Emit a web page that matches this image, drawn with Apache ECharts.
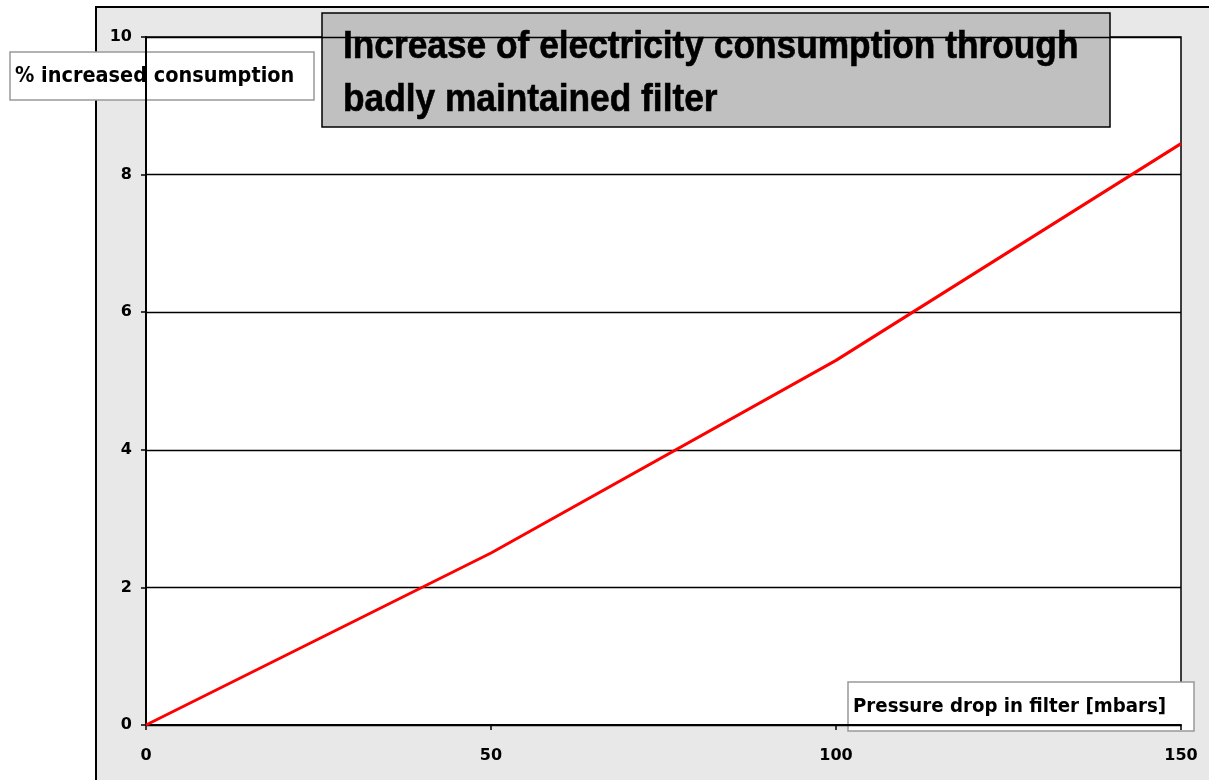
<!DOCTYPE html>
<html><head><meta charset="utf-8">
<script src="https://cdn.jsdelivr.net/npm/echarts@6/dist/echarts.min.js"></script>
<style>html,body{margin:0;padding:0;background:#fff}#c{width:1209px;height:780px}</style>
</head><body><div id="c"></div>
<script>
const titleLines = ["Increase of electricity consumption through", "badly maintained filter"];
const yAxisTitle = "% increased consumption";
const xAxisTitle = "Pressure drop in filter [mbars]";
const pressureDrop = [0, 50, 100, 150];
const increasePct = [0, 2.5, 5.3, 8.45];
const xTicks = [0, 50, 100, 150];
const yTicks = [0, 2, 4, 6, 8, 10];

const G = {left: 146, top: 37, right: 28, bottom: 55};
const W = 1209, H = 780;
const chart = echarts.init(document.getElementById('c'));
const tickFont = {fontFamily: 'DejaVu Sans', fontWeight: 'bold', fontSize: 16, color: '#000'};
const titleFont = 'bold 39px "Liberation Sans", Arial, sans-serif';
chart.setOption({
  backgroundColor: '#fff',
  animation: false,
  grid: {left: G.left, top: G.top, right: G.right, bottom: G.bottom, show: false},
  xAxis: {
    type: 'value', min: xTicks[0], max: xTicks[xTicks.length-1], interval: 50,
    axisLine: {lineStyle: {color: '#000', width: 2}},
    axisTick: {show: true, length: 5, lineStyle: {color: '#000', width: 1.5}},
    axisLabel: Object.assign({margin: 23}, tickFont),
    splitLine: {show: false}
  },
  yAxis: {
    type: 'value', min: yTicks[0], max: yTicks[yTicks.length-1], interval: 2,
    axisLine: {show: true, lineStyle: {color: '#000', width: 2}},
    axisTick: {show: true, length: 5, lineStyle: {color: '#000', width: 1.5}},
    axisLabel: Object.assign({margin: 14}, tickFont),
    splitLine: {show: true, lineStyle: {color: '#000', width: 1.4}}
  },
  series: [{
    type: 'line', data: pressureDrop.map((x, i) => [x, increasePct[i]]),
    showSymbol: false, lineStyle: {color: '#ff0000', width: 3}, z: 5
  }],
  graphic: [
    {type: 'rect', z: -10, silent: true, shape: {x: 96, y: 7, width: 1200, height: 800}, style: {fill: '#e8e8e8', stroke: '#000', lineWidth: 2}},
    {type: 'rect', z: -5, silent: true, shape: {x: G.left, y: G.top, width: W - G.left - G.right, height: H - G.top - G.bottom}, style: {fill: '#fff', stroke: '#000', lineWidth: 1.5}},
    {type: 'group', z: 100, children: [
      {type: 'rect', shape: {x: 322, y: 13, width: 788, height: 114}, style: {fill: '#c0c0c0', stroke: '#000', lineWidth: 1.5}},
      {type: 'text', x: 343, y: 47, scaleX: 0.905, style: {text: titleLines[0], font: titleFont, fill: '#000', stroke: '#000', lineWidth: 0.6, textVerticalAlign: 'middle'}},
      {type: 'text', x: 343, y: 100, scaleX: 0.905, style: {text: titleLines[1], font: titleFont, fill: '#000', stroke: '#000', lineWidth: 0.6, textVerticalAlign: 'middle'}}
    ]},
    {type: 'group', z: 100, children: [
      {type: 'rect', shape: {x: 10, y: 52, width: 304, height: 48}, style: {fill: '#fff', stroke: '#999', lineWidth: 1.5}},
      {type: 'text', x: 15, y: 77, scaleX: 0.92, style: {text: yAxisTitle, font: 'bold 21px "DejaVu Sans", sans-serif', fill: '#000', textVerticalAlign: 'middle'}}
    ]},
    {type: 'group', z: 100, children: [
      {type: 'rect', shape: {x: 848, y: 682, width: 346, height: 49}, style: {fill: '#fff', stroke: '#999', lineWidth: 1.5}},
      {type: 'text', x: 853, y: 707, scaleX: 0.91, style: {text: xAxisTitle, font: 'bold 20px "DejaVu Sans", sans-serif', fill: '#000', textVerticalAlign: 'middle'}}
    ]}
  ]
});
</script></body></html>
